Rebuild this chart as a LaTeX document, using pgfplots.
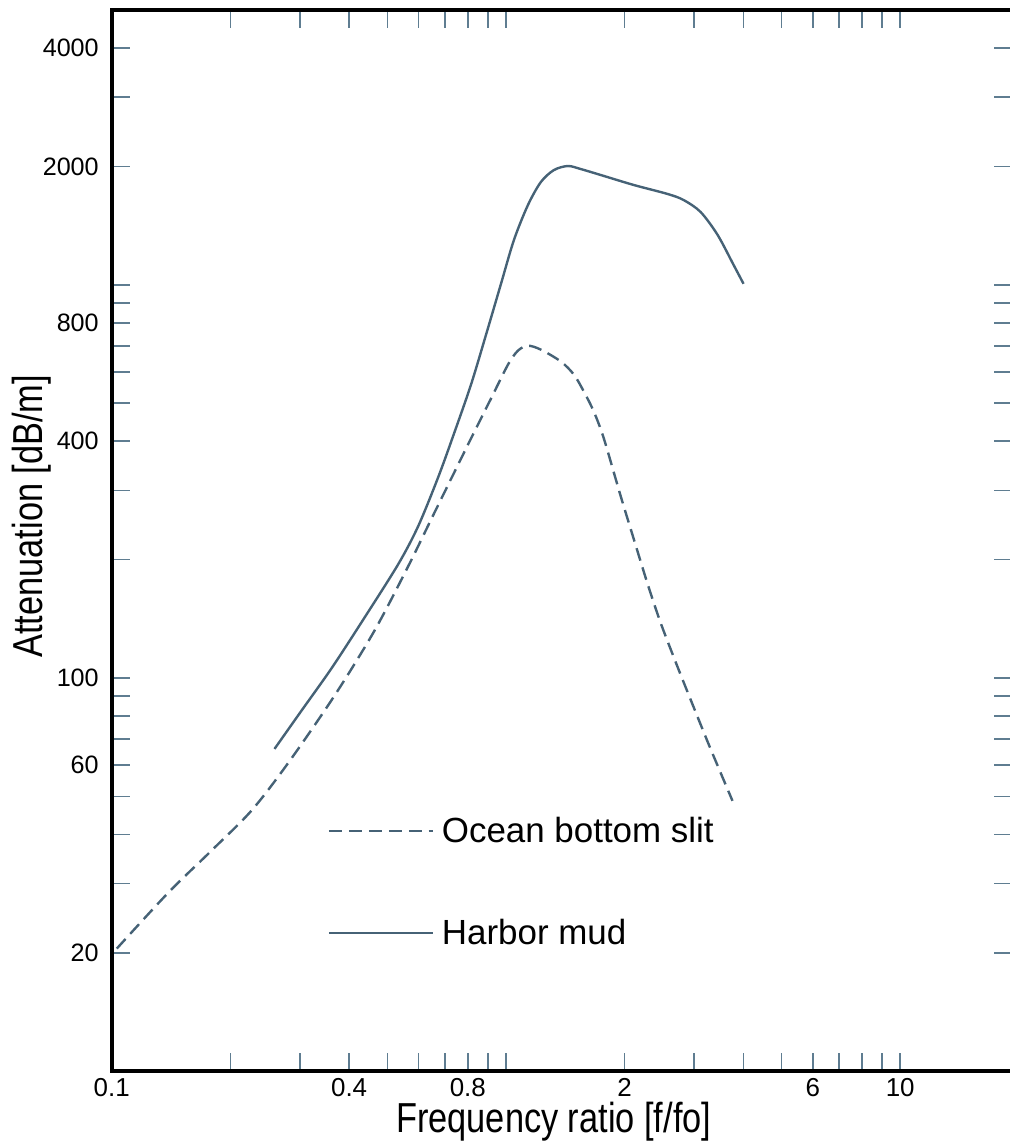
\documentclass[border=0pt]{standalone}
\usepackage{fontspec}
\setmainfont{Liberation Sans}
\newfontfamily\narrowsans[FakeStretch=0.82]{Liberation Sans}
\usepackage{pgfplots}
\pgfplotsset{compat=1.18}
\definecolor{curve}{RGB}{70,98,118}
\definecolor{tickc}{RGB}{95,125,145}

\begin{document}
\begin{tikzpicture}
\begin{axis}[
  xmode=log, ymode=log,
  scale only axis, width=451pt, height=531.7pt,
  xmin=0.1, xmax=19.2, ymin=10, ymax=5000,
  axis line style={line width=2pt, black},
  xtick={0.1,0.4,0.8,2,6,10},
  xticklabels={0.1,0.4,0.8,2,6,10},
  minor xtick={0.2,0.3,0.5,0.6,0.7,0.9,1,3,4,5,7,8,9},
  ytick={20,60,100,400,800,2000,4000},
  yticklabels={20,60,100,400,800,2000,4000},
  minor ytick={30,40,50,70,80,90,200,300,500,600,700,900,1000,3000},
  tick align=inside,
  major tick length=9pt, minor tick length=9pt,
  tick style={tickc, line width=0.8pt},
  xticklabel style={font=\fontsize{13}{15}\selectfont},
  yticklabel style={font=\fontsize{12.6}{14}\selectfont, xshift=-3pt},
  xlabel={Frequency ratio [f/fo]},
  ylabel={Attenuation [dB/m]},
  xlabel style={font=\narrowsans\fontsize{21}{24}\selectfont,
    at={(axis description cs:0.491,-0.0578)}, anchor=base},
  ylabel style={font=\narrowsans\fontsize{21}{24}\selectfont,
    at={(axis description cs:-0.0887,0.523)}, anchor=center},
  legend style={at={(axis description cs:0.2395,0.240)}, anchor=north west,
    draw=none, fill=none, font=\fontsize{17.5}{20}\selectfont,
    inner sep=0pt, row sep=37pt, column sep=4pt,
    nodes={inner sep=0pt}},
  legend cell align=left,
  legend image code/.code={\draw[#1] (0pt,0pt) -- (52pt,0pt);},
]
% ocean bottom slit
\addplot[curve, line width=1.2pt, dash pattern=on 6.5pt off 3.5pt, smooth] coordinates {
  (0.1030,20.5) (0.1394,28.5) (0.1791,36.4) (0.2262,46.0) (0.2806,60.9)
  (0.3669,90.0) (0.4633,131.6) (0.5649,192.4) (0.6573,262.3) (0.8153,406.6)
  (0.9162,513.6) (1.0118,626.6) (1.0724,680) (1.137,700) (1.2262,684)
  (1.378,638) (1.487,591) (1.576,535) (1.670,476) (1.771,406.6)
  (1.955,289.7) (2.110,225.4) (2.288,173.2) (2.469,137.9) (2.725,106.6)
  (2.991,84.4) (3.304,66.0) (3.755,48.7)
};
\addlegendentry{Ocean bottom slit}
% harbor mud
\addplot[curve, line width=1.2pt, smooth] coordinates {
  (0.2587,66.0) (0.3027,82.5) (0.3614,106) (0.4369,142.0) (0.5329,194.7)
  (0.5987,243.1) (0.6727,323.6) (0.7385,418.8) (0.8153,557.5) (0.8900,746.6)
  (0.9713,1006) (1.0478,1301) (1.1370,1596) (1.2262,1826) (1.3228,1958)
  (1.4355,2005) (1.548,1970) (1.740,1902) (2.110,1794) (2.571,1702)
  (2.822,1643) (3.116,1532) (3.441,1340) (3.778,1124) (4.004,1006)
};
\addlegendentry{Harbor mud}
\end{axis}
\pgfresetboundingbox
\path (-56pt,-36pt) rectangle (449.6pt,536.7pt);
\end{tikzpicture}
\end{document}
